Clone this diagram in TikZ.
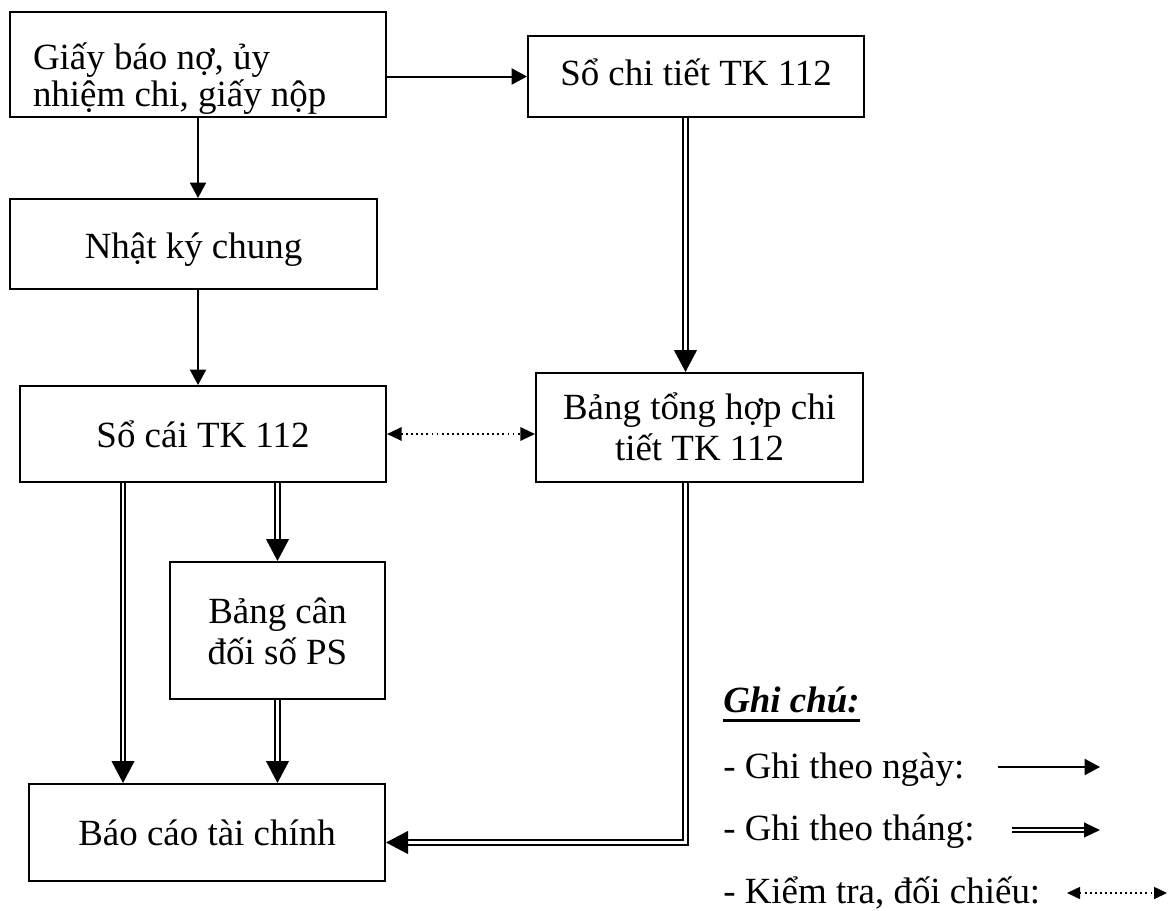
\documentclass[tikz,border=0pt]{standalone}
\usepackage{fontspec}
\setmainfont{Liberation Serif}
\usetikzlibrary{arrows.meta,calc}

\newlength{\pxu}
\setlength{\pxu}{0.75pt}
\newcommand{\gachduoi}[1]{\leavevmode\setbox0\hbox{#1}\rlap{\rule[-7.5pt]{\wd0}{2.4pt}}\box0}

\tikzset{
  hop/.style={draw, rectangle, line width=1.5pt, inner sep=0pt, align=center,
    font=\fontsize{27.7}{30.5}\selectfont, text height=21pt, text depth=1.5pt},
  ghingay/.style={line width=1.5pt, -{Triangle[length=11.5pt,width=12pt]}},
  ghithang/.style={double, line width=1.6pt, double distance=1.6pt,
    -{Triangle[length=16.5pt,width=17pt]}},
  doichieu/.style={line width=1.6pt, dash pattern=on 1.4pt off 2.4pt,
    {Triangle[length=11pt,width=10pt]}-{Triangle[length=11pt,width=10pt]}},
  ghichu/.style={inner sep=0pt, anchor=base west, font=\fontsize{27.7}{30.5}\selectfont}
}

\begin{document}
\begin{tikzpicture}[x=0.75pt,y=-0.75pt]
        \useasboundingbox (0,0) rectangle (1174,910);
        \node[hop, align=flush left, text width=330\pxu, minimum width=376\pxu, minimum height=105\pxu,
              font=\fontsize{27.7}{27.5}\selectfont, text depth=13.5pt]
              (giay) at (198,64.5) {Giấy báo nợ, ủy\\nhiệm chi, giấy nộp};
        \node[hop, minimum width=336\pxu, minimum height=81\pxu, text depth=8pt]
              (chitiet) at (696,76.5) {Sổ chi tiết TK 112};
        \node[hop, minimum width=367\pxu, minimum height=90\pxu, text height=23pt] (nkc) at (193.5,244) {Nhật ký chung};
        \node[hop, minimum width=366\pxu, minimum height=96\pxu] (socai) at (203,434) {Sổ cái TK 112};
        \node[hop, minimum width=327\pxu, minimum height=109\pxu, text height=50.25pt]
              (bangth) at (699.5,427.5) {Bảng tổng hợp chi\\tiết TK 112};
        \node[hop, minimum width=215\pxu, minimum height=137\pxu, text height=51.75pt]
              (bangcd) at (277.5,630.5) {Bảng cân\\đối số PS};
        \node[hop, minimum width=356\pxu, minimum height=97\pxu] (baocao) at (207,832.5) {Báo cáo tài chính};

        \draw[ghingay] (giay.east |- chitiet.west) -- (chitiet.west);
        \draw[ghingay] (giay.south) -- (giay.south |- nkc.north);
        \draw[ghingay] (nkc.south -| giay.south) -- (socai.north -| giay.south);
        \coordinate (doc) at ($(bangth.north)+(-14,0)$);
        \draw[ghithang] (chitiet.south -| doc) -- (doc);
        \draw[doichieu] (socai.east) -- (socai.east -| bangth.west);
        \coordinate (trai) at ($(socai.south west)+(104,0)$);
        \draw[ghithang] (trai) -- (trai |- baocao.north);
        \draw[ghithang] (bangcd.north |- socai.south) -- (bangcd.north);
        \draw[ghithang] (bangcd.south) -- (bangcd.south |- baocao.north);
        \coordinate (vao) at ($(baocao.east)+(0,10)$);
        \draw[ghithang] (bangth.south -| doc) -- (doc |- vao) -- (vao);

        \node[ghichu] (gc) at (723,712) {\gachduoi{\textbf{\textit{Ghi chú:}}}};
        \node[ghichu] (ngay) at (723,778) {- Ghi theo ngày:};
        \node[ghichu] (thang) at (723,840) {- Ghi theo tháng:};
        \node[ghichu] (kiemtra) at (723,903) {- Kiểm tra, đối chiếu:};
        \coordinate (ngayA) at (998,767);
        \coordinate (ngayB) at (1100,767);
        \coordinate (thangA) at (1012,830);
        \coordinate (thangB) at (1100,830);
        \coordinate (ktA) at (1067,893);
        \coordinate (ktB) at (1167,893);
        \draw[ghingay] (ngayA) -- (ngayB);
        \draw[ghithang, -{Triangle[length=12pt,width=11pt]}] (thangA) -- (thangB);
        \draw[doichieu, line width=1.2pt, {Triangle[length=9.75pt,width=9pt]}-{Triangle[length=9.75pt,width=9pt]}] (ktA) -- (ktB);
    \end{tikzpicture}
\end{document}
